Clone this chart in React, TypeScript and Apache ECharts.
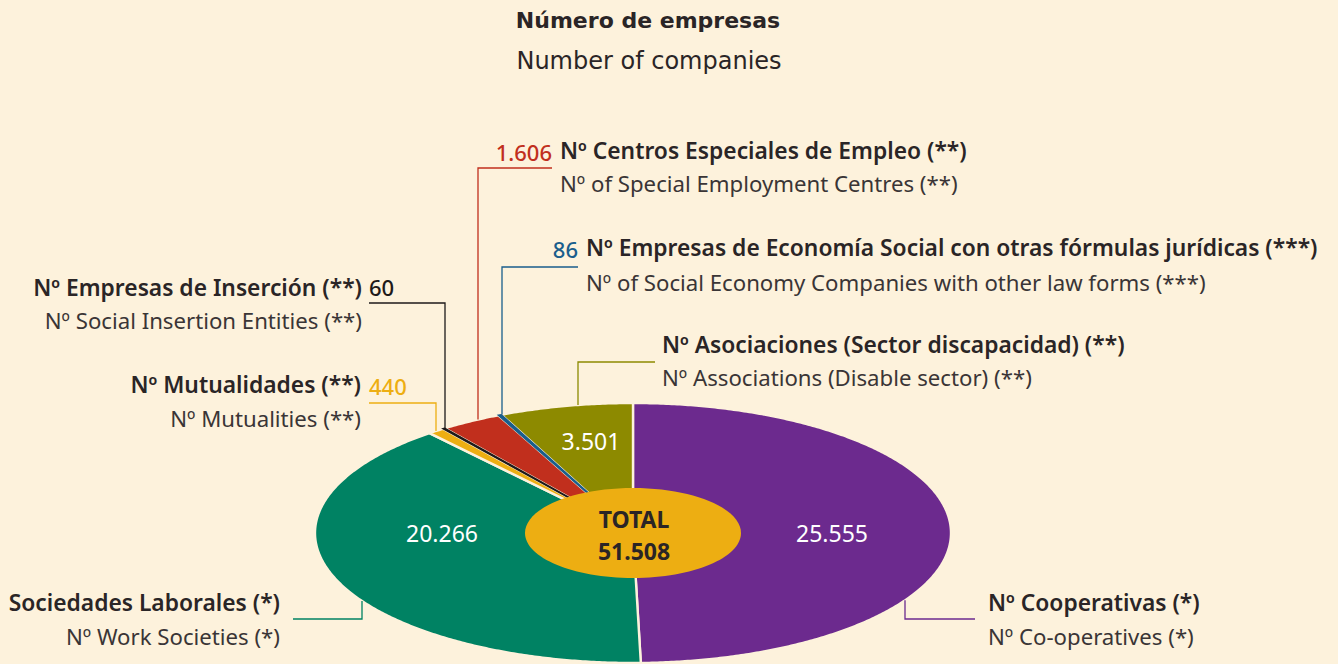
import React, { useEffect, useRef } from "react";
import * as echarts from "echarts";

// ---------- DATA ----------
const categoriesEs = [
  "Nº Cooperativas (*)",
  "Sociedades Laborales (*)",
  "Nº Mutualidades (**)",
  "Nº Empresas de Inserción (**)",
  "Nº Centros Especiales de Empleo (**)",
  "Nº Empresas de Economía Social con otras fórmulas jurídicas (***)",
  "Nº Asociaciones (Sector discapacidad) (**)",
];
const categoriesEn = [
  "Nº Co-operatives (*)",
  "Nº Work Societies (*)",
  "Nº Mutualities (**)",
  "Nº Social Insertion Entities (**)",
  "Nº of Special Employment Centres (**)",
  "Nº of Social Economy Companies with other law forms (***)",
  "Nº Associations (Disable sector) (**)",
];
const values = [25555, 20266, 440, 60, 1606, 86, 3501];
const totalCompanies = 51508;
const titleLines = ["Número de empresas", "Number of companies"];

// ---------- STYLE / LAYOUT ----------
const W = 1338;
const H = 664;
const BG = "#fdf2dc";
const TEXT = "#2a2526";
const colors = ["#6c2a8e", "#008263", "#edae12", "#1e1a1a", "#c12f1d", "#1a5e8c", "#8d8a00"];
const valueColors = ["#ffffff", "#ffffff", "#edae12", "#1e1a1a", "#c12f1d", "#1a5e8c", "#ffffff"];
const CX = 633, CY = 533, RX = 318, RY = 130;
const FONT = "Noto Sans";

type Lay = {
  inside: boolean;
  vx: number; vy: number;
  tAlign: "left" | "right";
  tx: number; y1: number; y2: number;
  lineY: number; lineEndX: number; anchorX: number; bottom: boolean;
  numAlign: "left" | "right";
};
const layout: Lay[] = [
  { inside: true, vx: 832, vy: 533, tAlign: "left", tx: 988, y1: 602, y2: 636, lineY: 619, lineEndX: 975, anchorX: 905, bottom: true, numAlign: "left" },
  { inside: true, vx: 442, vy: 533, tAlign: "right", tx: 280, y1: 602, y2: 636, lineY: 619, lineEndX: 293, anchorX: 362, bottom: true, numAlign: "left" },
  { inside: false, vx: 369, vy: 386, tAlign: "right", tx: 361, y1: 384, y2: 418, lineY: 403, lineEndX: 369, anchorX: 436, bottom: false, numAlign: "left" },
  { inside: false, vx: 369, vy: 287, tAlign: "right", tx: 362, y1: 287, y2: 320, lineY: 303, lineEndX: 369, anchorX: 445, bottom: false, numAlign: "left" },
  { inside: false, vx: 552, vy: 152, tAlign: "left", tx: 560, y1: 150, y2: 183, lineY: 168, lineEndX: 552, anchorX: 478, bottom: false, numAlign: "right" },
  { inside: false, vx: 578, vy: 249, tAlign: "left", tx: 586, y1: 247, y2: 282, lineY: 267, lineEndX: 578, anchorX: 502, bottom: false, numAlign: "right" },
  { inside: true, vx: 591, vy: 441, tAlign: "left", tx: 662, y1: 344, y2: 377, lineY: 362, lineEndX: 655, anchorX: 578, bottom: false, numAlign: "left" },
];

const fmt = (v: number) => String(v).replace(/\B(?=(\d{3})+(?!\d))/g, ".");

const sumValues = values.reduce((a, b) => a + b, 0);
const sliceAngles: [number, number][] = (() => {
  let acc = 0;
  return values.map((v) => {
    const a0 = (acc / sumValues) * Math.PI * 2;
    acc += v;
    const a1 = (acc / sumValues) * Math.PI * 2;
    return [a0, a1];
  });
})();

const ellPt = (a: number) => [CX + RX * Math.sin(a), CY - RY * Math.cos(a)];
const edgeY = (x: number, bottom: boolean) => {
  const t = (x - CX) / RX;
  const d = RY * Math.sqrt(Math.max(0, 1 - t * t));
  return bottom ? CY + d : CY - d;
};

const txt = (text: string, x: number, y: number, size: number, weight: any, fill: string, align: string, family = FONT, z = 100) => ({
  type: "text", x, y, z,
  style: { text, fontFamily: family, fontSize: size, fontWeight: weight, fill, align, verticalAlign: "middle", textAlign: align, textVerticalAlign: "middle" },
});

export default function App() {
  const ref = useRef<HTMLDivElement>(null);
  useEffect(() => {
    document.body.style.margin = "0";
    const chart = echarts.init(ref.current!, null, { renderer: "svg" });

    const graphics: any[] = [];
    graphics.push(txt(titleLines[0], 648, 20, 22, "bold", TEXT, "center", "DejaVu Sans"));
    graphics.push(txt(titleLines[1], 649, 61, 24, "normal", TEXT, "center", "DejaVu Sans"));

    layout.forEach((l, i) => {
      const ey = edgeY(l.anchorX, l.bottom);
      graphics.push({
        type: "polyline", z: 100,
        shape: { points: [[l.lineEndX, l.lineY], [l.anchorX, l.lineY], [l.anchorX, ey]] },
        style: { stroke: colors[i], lineWidth: 1.3, fill: null },
      });
      graphics.push(txt(categoriesEs[i], l.tx, l.y1, 22.8, 600, TEXT, l.tAlign));
      graphics.push(txt(categoriesEn[i], l.tx, l.y2, 22.2, "normal", "#3a3536", l.tAlign));
    });

    graphics.push({
      type: "ellipse", z: 100,
      shape: { cx: CX, cy: CY, rx: 108, ry: 45 },
      style: { fill: "#edae12" },
    });
    graphics.push(txt("TOTAL", 634, 519, 23, "bold", TEXT, "center", FONT, 101));
    graphics.push(txt(fmt(totalCompanies), 634, 551, 23, "bold", TEXT, "center", FONT, 101));

    chart.setOption({
      animation: false,
      backgroundColor: BG,
      series: [
        {
          type: "custom",
          coordinateSystem: "none",
          z: 2,
          data: values.map((v, i) => ({ value: v, name: categoriesEs[i] })),
          renderItem: (params: any, api: any) => {
            const i = params.dataIndex;
            const [a0, a1] = sliceAngles[i];
            const pts: number[][] = [[CX, CY]];
            const steps = Math.max(2, Math.ceil((a1 - a0) / (Math.PI / 360)));
            for (let k = 0; k <= steps; k++) pts.push(ellPt(a0 + ((a1 - a0) * k) / steps));
            const l = layout[i];
            const v = api.value(0);
            const tiny = a1 - a0 < Math.PI / 180;
            return {
              type: "group",
              children: [
                {
                  type: "polygon",
                  z2: tiny ? 5 : 1,
                  shape: { points: pts },
                  style: tiny
                    ? { fill: colors[i], stroke: colors[i], lineWidth: 1.4 }
                    : { fill: colors[i], stroke: BG, lineWidth: 2.4 },
                },
                {
                  type: "text",
                  x: l.vx,
                  y: l.vy,
                  z2: 10,
                  style: {
                    text: fmt(v),
                    fontFamily: FONT,
                    fontSize: l.inside ? 23 : 22,
                    fontWeight: l.inside ? "normal" : 500,
                    fill: valueColors[i],
                    align: l.inside ? "center" : l.numAlign,
                    verticalAlign: "middle",
                  },
                },
              ],
            };
          },
        },
      ],
      graphic: { elements: graphics },
    });
    return () => chart.dispose();
  }, []);
  return <div ref={ref} style={{ width: W, height: H, background: BG }} />;
}
